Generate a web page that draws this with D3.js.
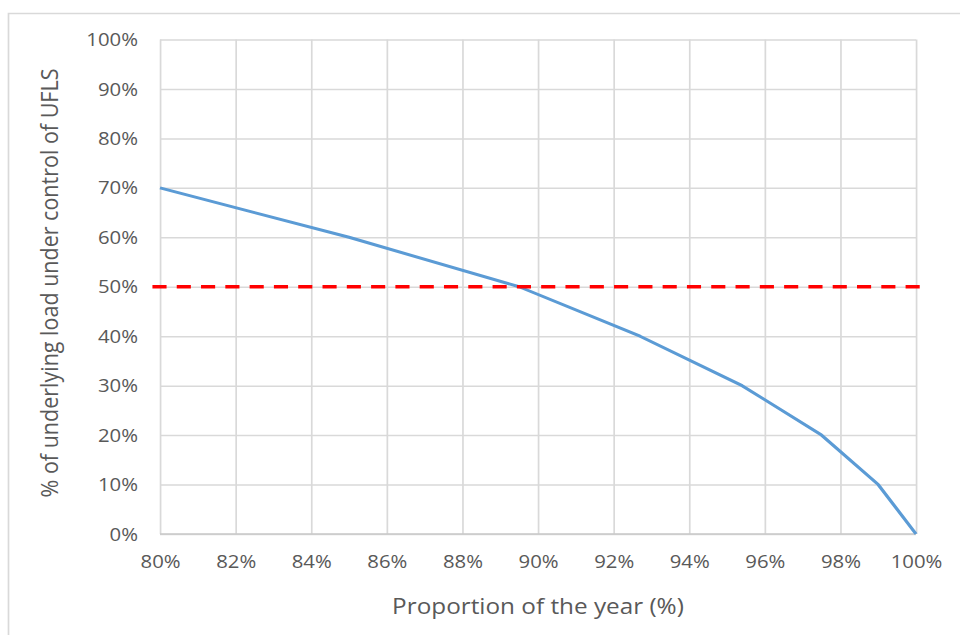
<!DOCTYPE html>
<html>
<head>
<meta charset="utf-8">
<script src="https://cdn.jsdelivr.net/npm/d3@7"></script>
<style>
  html, body { margin: 0; padding: 0; background: #fff; }
  svg { display: block; }
  text { font-family: "Open Sans", "Noto Sans", sans-serif; fill: #595959; }
</style>
</head>
<body>
<svg id="chart"></svg>
<script>
// Load duration data: share of the year vs. share of load under UFLS control
const yearShare = [80, 85, 89.5, 92.7, 95.4, 97.5, 99, 100];
const loadShare = [70, 60, 50, 40, 30, 20, 10, 0];

// 50% threshold marker and its horizontal extent
const thresholdValue = 50;
const thresholdSpan = [79.8, 100.2];

// Tick values
const xTicks = [80, 82, 84, 86, 88, 90, 92, 94, 96, 98, 100];
const yTicks = [0, 10, 20, 30, 40, 50, 60, 70, 80, 90, 100];

const xTitle = "Proportion of the year (%)";
const yTitle = "% of underlying load under control of UFLS";

// The drawing is laid out in a horizontally compressed user space and
// stretched to the full window width.
const SX = 1.13;
const WIDTH = 960, HEIGHT = 635;
const VW = WIDTH / SX;

const plot = { left: 160 / SX, right: 916 / SX, top: 39.5, bottom: 534 };

const svg = d3.select("#chart")
  .attr("width", WIDTH)
  .attr("height", HEIGHT)
  .attr("viewBox", `0 0 ${VW} ${HEIGHT}`)
  .attr("preserveAspectRatio", "none");

// outer frame
svg.append("rect")
  .attr("x", 8.5 / SX).attr("y", 13.5)
  .attr("width", VW).attr("height", HEIGHT)
  .attr("fill", "none")
  .attr("stroke", "#d9d9d9")
  .attr("stroke-width", 1.5);

const x = d3.scaleLinear().domain([80, 100]).range([plot.left, plot.right]);
const y = d3.scaleLinear().domain([0, 100]).range([plot.bottom, plot.top]);

// horizontal gridlines + y labels
const yAxis = svg.append("g")
  .attr("transform", `translate(${plot.left},0)`)
  .call(d3.axisLeft(y)
    .tickValues(yTicks)
    .tickSize(-(plot.right - plot.left))
    .tickPadding(22 / SX)
    .tickFormat(d => d + "%"));
yAxis.select(".domain").remove();
yAxis.selectAll(".tick line").attr("stroke", "#d9d9d9").attr("stroke-width", 1.5);
yAxis.selectAll(".tick text").attr("font-size", 18).attr("dy", "0.34em");

// vertical gridlines + x labels
const xAxis = svg.append("g")
  .attr("transform", `translate(0,${plot.bottom})`)
  .call(d3.axisBottom(x)
    .tickValues(xTicks)
    .tickSize(-(plot.bottom - plot.top))
    .tickPadding(21)
    .tickFormat(d => d + "%"));
xAxis.select(".domain").remove();
xAxis.selectAll(".tick line").attr("stroke", "#d9d9d9").attr("stroke-width", 1.5);
xAxis.selectAll(".tick text").attr("font-size", 18).attr("dy", "0.71em");

// baseline
svg.append("line")
  .attr("x1", plot.left).attr("x2", plot.right)
  .attr("y1", y(0)).attr("y2", y(0))
  .attr("stroke", "#c8c8c8").attr("stroke-width", 1.5);

// load curve
const line = d3.line()
  .x((d, i) => x(yearShare[i]))
  .y(d => y(d));
svg.append("path")
  .datum(loadShare)
  .attr("fill", "none")
  .attr("stroke", "#5b9bd5")
  .attr("stroke-width", 3)
  .attr("stroke-linejoin", "round")
  .attr("d", line);

// 50% threshold
svg.append("line")
  .attr("x1", x(thresholdSpan[0])).attr("x2", x(thresholdSpan[1]))
  .attr("y1", y(thresholdValue)).attr("y2", y(thresholdValue))
  .attr("stroke", "#ff0000")
  .attr("stroke-width", 3.5)
  .attr("stroke-dasharray", "12.5 9");

// axis titles
svg.append("text")
  .attr("x", (plot.left + plot.right) / 2)
  .attr("y", 614)
  .attr("text-anchor", "middle")
  .attr("font-size", 21.5)
  .text(xTitle);

svg.append("text")
  .attr("transform", `translate(${58 / SX},283) rotate(-90)`)
  .attr("text-anchor", "middle")
  .attr("font-size", 21.5)
  .text(yTitle);
</script>
</body>
</html>
